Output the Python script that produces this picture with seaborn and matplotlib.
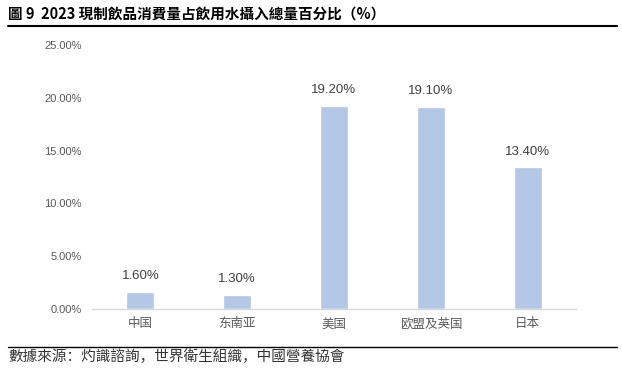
import matplotlib
matplotlib.use("Agg")
import matplotlib.pyplot as plt
import seaborn as sns
import pandas as pd
from matplotlib.lines import Line2D

categories = ["中国", "东南亚", "美国", "欧盟及英国", "日本"]
values = [1.60, 1.30, 19.20, 19.10, 13.40]
yticks = [0, 5, 10, 15, 20, 25]
title = "圖 9  2023 現制飲品消費量占飲用水攝入總量百分比（%）"
source = "數據來源：灼識諮詢，世界衛生組織，中國營養協會"

sns.set_theme(style="white")
plt.rcParams['font.family'] = ['Noto Sans CJK SC', 'DejaVu Sans']
num_font = ['Liberation Sans', 'DejaVu Sans']

df = pd.DataFrame({"cat": categories, "val": values})

fig = plt.figure(figsize=(6.22, 3.70), dpi=100)
ax = fig.add_axes([92/622, 1-309/370, (576-92)/622, (309-45)/370])
sns.barplot(data=df, x="cat", y="val", color="#B4C7E7", saturation=1, width=0.29, ax=ax)

ax.set_ylim(0, 25)
ax.set_yticks(yticks)
ax.set_yticklabels([f"{t:.2f}%" for t in yticks], color="#595959", fontsize=8, family=num_font)
ax.tick_params(axis='x', colors="#595959", labelsize=9, length=0, pad=6)
ax.tick_params(axis='y', length=0, pad=7.5)
ax.set_xlabel("")
ax.set_ylabel("")
for s in ["top", "right", "left"]:
    ax.spines[s].set_visible(False)
ax.spines["bottom"].set_color("#D9D9D9")
ax.spines["bottom"].set_linewidth(1)
ax.set_xlim(-0.5, len(categories) - 0.5)

for i, v in enumerate(values):
    ax.text(i, v + 1.5, f"{v:.2f}%", ha="center", va="center", fontsize=9.5,
            color="#404040", family=num_font)

fig.text(8/622, 1-14/370, title, ha="left", va="center", fontsize=10.5, fontweight="bold", color="#000000")
fig.add_artist(Line2D([8/622, 617/622], [1-26/370, 1-26/370], color="black", lw=1.5, transform=fig.transFigure))
fig.add_artist(Line2D([8/622, 617/622], [1-347/370, 1-347/370], color="black", lw=1.0, transform=fig.transFigure))
fig.text(8/622, 1-357/370, source, ha="left", va="center", fontsize=10.5, color="#333333", style="italic")

fig.savefig("out.png", dpi=100)
